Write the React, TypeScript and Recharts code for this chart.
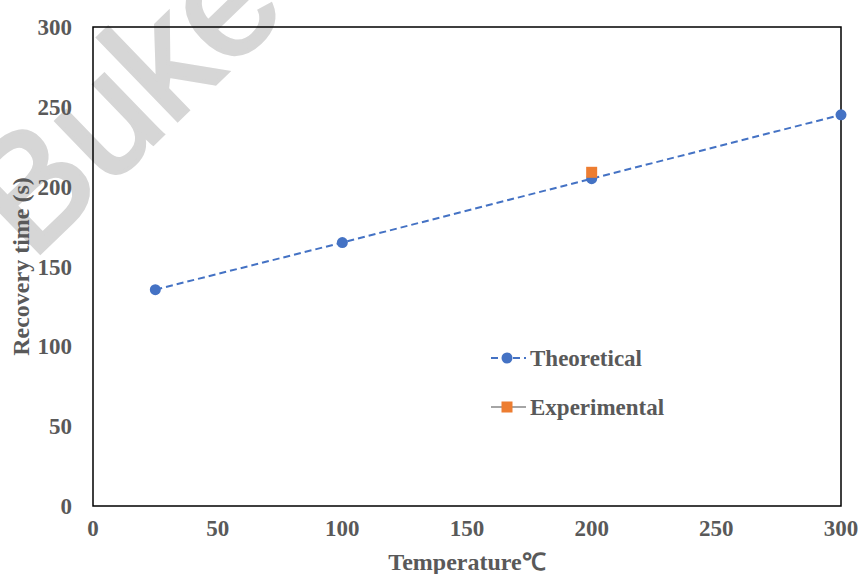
import React from 'react';
import { ComposedChart, Line, XAxis, YAxis, ReferenceArea, Scatter } from 'recharts';

const temperatures = [25, 100, 200, 300];
const theoretical = [135.5, 165, 205, 245];
const experimentalT = [200];
const experimental = [209];
const xTicks = [0, 50, 100, 150, 200, 250, 300];
const yTicks = [0, 50, 100, 150, 200, 250, 300];

const theoData = temperatures.map((t, i) => ({ t, v: theoretical[i] }));
const expData = experimentalT.map((t, i) => ({ t, e: experimental[i] }));

const BLUE = '#4472C4';
const ORANGE = '#ED7D31';
const TXT = '#595959';
const FONT = '"Liberation Serif", "Times New Roman", serif';

const SquareShape = (props: any) => {
  const { cx, cy } = props;
  return <rect x={cx - 5.5} y={cy - 5.5} width={11} height={11} fill={ORANGE} />;
};

export default function App() {
  return (
    <div style={{ position: 'absolute', left: 0, top: 0, width: 859, height: 574, background: '#fff', overflow: 'hidden' }}>
      <div
        style={{
          position: 'absolute',
          left: -62,
          top: 165,
          transformOrigin: '0 0',
          transform: 'rotate(-44deg)',
          fontFamily: '"Liberation Sans", Arial, sans-serif',
          fontSize: 158,
          color: '#d6d6d6',
          lineHeight: 1,
          whiteSpace: 'nowrap',
          WebkitTextStroke: '4px #d6d6d6',
        }}
      >
        Buke
      </div>
      <div style={{ position: 'absolute', left: 0, top: 0 }}>
        <ComposedChart width={859} height={574} margin={{ top: 27, right: 18, bottom: 0, left: 0 }}>
          <XAxis
            dataKey="t"
            type="number"
            domain={[0, 300]}
            ticks={xTicks}
            allowDuplicatedCategory={false}
            tickLine={false}
            axisLine={false}
            tickSize={0}
            tickMargin={14}
            height={68}
            tick={{ fill: TXT, fontSize: 23, fontWeight: 'bold', fontFamily: FONT }}
            label={{ value: 'Temperature℃', position: 'insideBottom', offset: 4, fill: TXT, fontSize: 24, fontWeight: 'bold', fontFamily: FONT }}
          />
          <YAxis
            type="number"
            domain={[0, 300]}
            ticks={yTicks}
            tickLine={false}
            axisLine={false}
            tickSize={0}
            tickMargin={21}
            width={93}
            tick={{ fill: TXT, fontSize: 23, fontWeight: 'bold', fontFamily: FONT }}
            label={{ value: 'Recovery time (s)', angle: -90, position: 'insideLeft', offset: 20, dy: 0, fill: TXT, fontSize: 24, fontWeight: 'bold', fontFamily: FONT, style: { textAnchor: 'middle' } }}
          />
          <ReferenceArea x1={0} x2={300} y1={0} y2={300} fill="none" stroke="#000" strokeWidth={1.5} ifOverflow="visible" />
          <Line
            data={theoData}
            dataKey="v"
            stroke={BLUE}
            strokeWidth={2}
            strokeDasharray="7 4"
            dot={{ r: 5.5, fill: BLUE, stroke: 'none' }}
            isAnimationActive={false}
          />
          <Scatter data={expData} dataKey="e" shape={<SquareShape />} isAnimationActive={false} />
        </ComposedChart>
      </div>
      <svg style={{ position: 'absolute', left: 0, top: 0 }} width={859} height={574} pointerEvents="none">
        <line x1={491} y1={358} x2={526} y2={358} stroke={BLUE} strokeWidth={2} strokeDasharray="7 4" />
        <circle cx={507} cy={358} r={5.5} fill={BLUE} />
        <text x={530} y={366} fill={TXT} fontSize={23} fontWeight="bold" fontFamily={FONT}>Theoretical</text>
        <line x1={491} y1={407} x2={526} y2={407} stroke="#A5A5A5" strokeWidth={2} />
        <rect x={501.5} y={401.5} width={11} height={11} fill={ORANGE} />
        <text x={530} y={415} fill={TXT} fontSize={23} fontWeight="bold" fontFamily={FONT}>Experimental</text>
      </svg>
    </div>
  );
}
